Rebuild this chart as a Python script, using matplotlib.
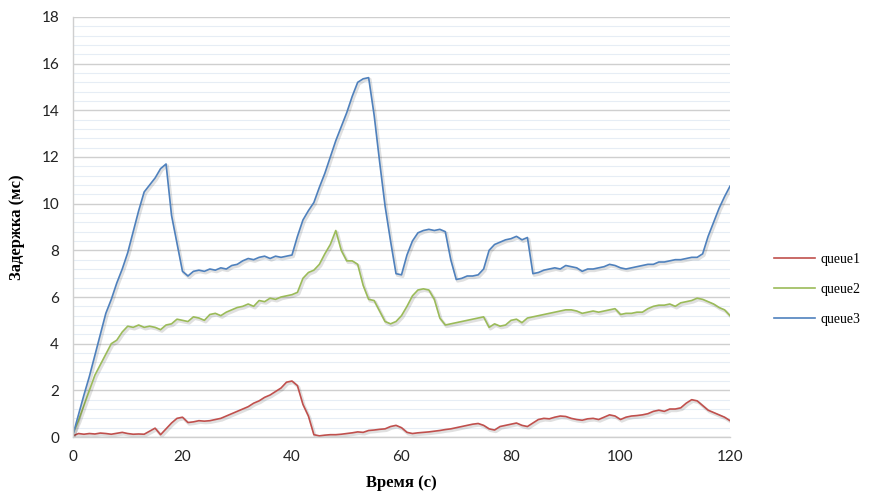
import numpy as np
import matplotlib
matplotlib.use('Agg')
import matplotlib.pyplot as plt
import matplotlib.patheffects as pe
from matplotlib.ticker import MultipleLocator

# время, с (шаг 1 с)
t = np.arange(0, 121)

queue1 = [0.05, 0.15, 0.12, 0.15, 0.13, 0.17, 0.15, 0.12, 0.16, 0.2,
          0.15, 0.12, 0.13, 0.12, 0.25, 0.38, 0.1, 0.35, 0.6, 0.8,
          0.85, 0.62, 0.65, 0.7, 0.68, 0.7, 0.75, 0.8, 0.9, 1.0,
          1.1, 1.2, 1.3, 1.45, 1.55, 1.7, 1.8, 1.95, 2.1, 2.35,
          2.4, 2.2, 1.4, 0.9, 0.1, 0.05, 0.08, 0.1, 0.1, 0.12,
          0.15, 0.18, 0.22, 0.2, 0.28, 0.3, 0.33, 0.35, 0.45, 0.5,
          0.4, 0.2, 0.15, 0.18, 0.2, 0.22, 0.25, 0.28, 0.32, 0.35,
          0.4, 0.45, 0.5, 0.55, 0.58, 0.5, 0.35, 0.3, 0.45, 0.5,
          0.55, 0.6, 0.5, 0.45, 0.6, 0.75, 0.8, 0.78, 0.85, 0.9,
          0.88, 0.8, 0.75, 0.72, 0.78, 0.8, 0.75, 0.85, 0.95, 0.9,
          0.75, 0.85, 0.9, 0.92, 0.95, 1.0, 1.1, 1.15, 1.1, 1.2,
          1.2, 1.25, 1.45, 1.6, 1.55, 1.35, 1.15, 1.05, 0.95, 0.85,
          0.7]

queue2 = [0.15, 0.7, 1.35, 2.0, 2.65, 3.1, 3.55, 4.0, 4.15, 4.5,
          4.75, 4.7, 4.8, 4.7, 4.75, 4.7, 4.6, 4.8, 4.85, 5.05,
          5.0, 4.95, 5.15, 5.1, 5.0, 5.25, 5.3, 5.2, 5.35, 5.45,
          5.55, 5.6, 5.7, 5.6, 5.85, 5.8, 5.95, 5.9, 6.0, 6.05,
          6.1, 6.2, 6.8, 7.05, 7.15, 7.4, 7.85, 8.25, 8.85, 8.0,
          7.55, 7.55, 7.4, 6.5, 5.9, 5.85, 5.4, 4.95, 4.85, 4.95,
          5.2, 5.6, 6.05, 6.3, 6.35, 6.3, 5.9, 5.1, 4.8, 4.85,
          4.9, 4.95, 5.0, 5.05, 5.1, 5.15, 4.7, 4.85, 4.75, 4.8,
          5.0, 5.05, 4.9, 5.1, 5.15, 5.2, 5.25, 5.3, 5.35, 5.4,
          5.45, 5.45, 5.4, 5.3, 5.35, 5.4, 5.35, 5.4, 5.45, 5.5,
          5.25, 5.3, 5.3, 5.35, 5.35, 5.5, 5.6, 5.65, 5.65, 5.7,
          5.6, 5.75, 5.8, 5.85, 5.95, 5.9, 5.8, 5.7, 5.55, 5.45,
          5.2]

queue3 = [0.1, 0.95, 1.8, 2.6, 3.5, 4.4, 5.3, 5.9, 6.6, 7.2,
          7.9, 8.8, 9.7, 10.5, 10.8, 11.1, 11.5, 11.7, 9.5, 8.3,
          7.1, 6.9, 7.1, 7.15, 7.1, 7.2, 7.15, 7.25, 7.2, 7.35,
          7.4, 7.55, 7.65, 7.6, 7.7, 7.75, 7.65, 7.75, 7.7, 7.75,
          7.8, 8.6, 9.3, 9.7, 10.05, 10.7, 11.3, 12.0, 12.7, 13.3,
          13.9, 14.6, 15.2, 15.35, 15.4, 13.8, 11.8, 9.9, 8.4, 7.0,
          6.95, 7.8, 8.4, 8.75, 8.85, 8.9, 8.85, 8.9, 8.8, 7.6,
          6.75, 6.8, 6.9, 6.9, 6.95, 7.2, 8.0, 8.25, 8.35, 8.45,
          8.5, 8.6, 8.45, 8.55, 7.0, 7.05, 7.15, 7.2, 7.25, 7.2,
          7.35, 7.3, 7.25, 7.1, 7.2, 7.2, 7.25, 7.3, 7.4, 7.35,
          7.25, 7.2, 7.25, 7.3, 7.35, 7.4, 7.4, 7.5, 7.5, 7.55,
          7.6, 7.6, 7.65, 7.7, 7.7, 7.85, 8.6, 9.2, 9.8, 10.3,
          10.75]

series = [('queue1', queue1, '#C0504D'),
          ('queue2', queue2, '#9BBB59'),
          ('queue3', queue3, '#4F81BD')]

fig = plt.figure(figsize=(8.77, 4.99), dpi=100)
ax = fig.add_axes([0.0832, 0.1242, 0.7492, 0.8418])

shadow = [pe.SimpleLineShadow(offset=(1.0, -1.2), alpha=0.12, linewidth=2.2), pe.Normal()]
for name, vals, col in series:
    ax.plot(t, vals, color=col, lw=1.2, label=name, path_effects=shadow)

ax.set_xlim(0, 120)
ax.set_ylim(0, 18)
ax.xaxis.set_major_locator(MultipleLocator(20))
ax.yaxis.set_major_locator(MultipleLocator(2))
ax.yaxis.set_minor_locator(MultipleLocator(0.4))
ax.grid(which='major', axis='y', color='#CFCFCF', lw=1.0)
ax.grid(which='minor', axis='y', color='#E6EDF5', lw=0.8)
ax.set_axisbelow(True)
for s in ['top', 'right']:
    ax.spines[s].set_visible(False)
for s in ['left', 'bottom']:
    ax.spines[s].set_color('#CFCFCF')
    ax.spines[s].set_linewidth(1.0)
ax.tick_params(which='both', length=0)
ax.tick_params(axis='y', pad=10)
ax.tick_params(axis='x', pad=9)
for lab in ax.get_xticklabels() + ax.get_yticklabels():
    lab.set_fontfamily('Lato')
    lab.set_fontsize(11)
    lab.set_color('#222222')

ax.set_xlabel('Время (с)', family='Liberation Serif', fontweight='bold', fontsize=12, labelpad=8)
ax.set_ylabel('Задержка (мс)', family='Liberation Serif', fontweight='bold', fontsize=12, labelpad=12)

leg = fig.legend(loc='center left', bbox_to_anchor=(0.882, 0.42), frameon=False,
                 prop={'family': 'Liberation Serif', 'size': 10}, handlelength=3.0,
                 handletextpad=0.4, labelspacing=1.25, borderaxespad=0, borderpad=0)
for h in leg.get_lines():
    h.set_path_effects([])

fig.savefig('out.png', dpi=100)
